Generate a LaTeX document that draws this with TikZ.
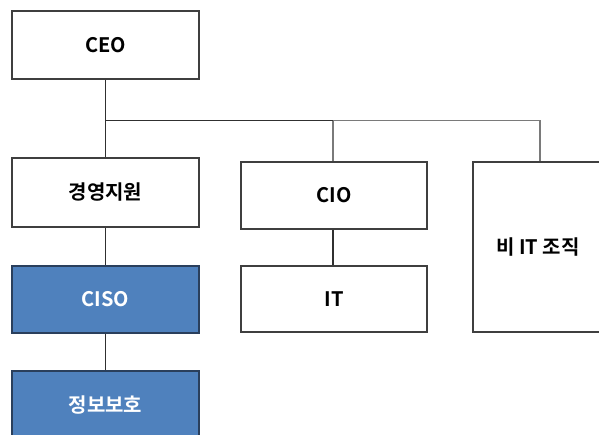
\documentclass[tikz,border=0pt]{standalone}
\usepackage{fontspec}
\setmainfont{Noto Sans CJK KR}[BoldFont={* Bold}]
\definecolor{boxline}{HTML}{3F3F3F}
\definecolor{linkdark}{HTML}{303030}
\definecolor{linkgray}{HTML}{7A7A7A}
\definecolor{secfill}{HTML}{4F81BD}
\definecolor{secline}{HTML}{2A3F5C}
\tikzset{
  unit/.style={draw=boxline, line width=1.5pt, fill=white, rectangle, inner sep=0pt,
    minimum width=187pt, minimum height=68pt,
    font=\fontsize{20}{23}\selectfont\bfseries, text=black},
  secunit/.style={unit, fill=secfill, draw=secline, text=white},
  linkmain/.style={draw=linkdark, line width=1.5pt},
  linkside/.style={draw=linkgray, line width=1.5pt}
}
\begin{document}
\begin{tikzpicture}[x=1pt, y=-1pt]
\useasboundingbox (0,0) rectangle (599,434);
\fill[white] (0,0) rectangle (599,434);
% units
\node[unit] (ceo) at (105.5,45) {CEO};
\node[unit, minimum height=69pt] (mgmt) at (105.5,192.5) {경영지원};
\node[secunit, minimum height=67pt] (ciso) at (105.5,299.5) {CISO};
\node[secunit, minimum height=69pt] (infosec) at (105.5,405.5) {정보보호};
\node[unit, minimum width=186pt, minimum height=67pt] (cio) at (334,195.5) {CIO};
\node[unit, minimum width=186pt, minimum height=66pt] (it) at (334,299) {IT};
\node[unit, minimum width=130pt, minimum height=170pt] (nonit) at (538,247) {비 IT 조직};
% tree connectors
\coordinate (split) at (105.5,120.5);
\coordinate (ciotop) at (333,120.5);
\coordinate (nonittop) at (540,120.5);
\draw[linkside] (ciotop) -- (nonittop) -- (nonittop |- nonit.north);
\draw[linkside] (ciotop) -- (ciotop |- cio.north);
\draw[linkmain] (ceo.south) -- (split) -- (ciotop);
\draw[linkmain] (split) -- (mgmt.north);
\draw[linkmain] (mgmt.south) -- (ciso.north);
\draw[linkmain] (ciso.south) -- (infosec.north);
\draw[linkmain] (cio.south -| ciotop) -- (it.north -| ciotop);
\end{tikzpicture}
\end{document}
